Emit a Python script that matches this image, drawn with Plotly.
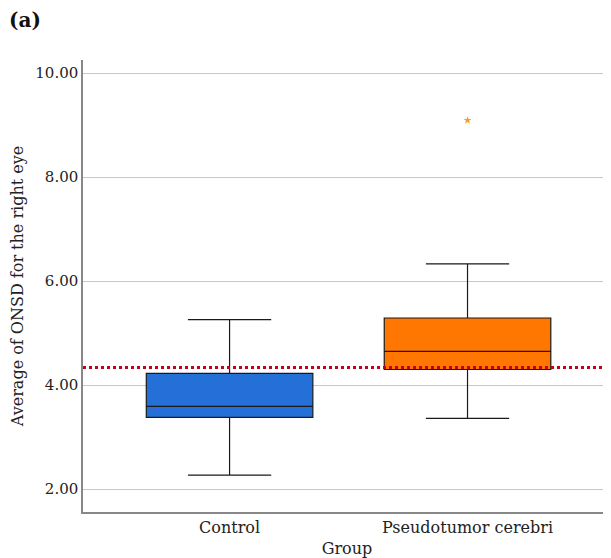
import plotly.graph_objects as go

groups = ["Control", "Pseudotumor cerebri"]
q1 = [3.38, 4.30]
median = [3.59, 4.65]
q3 = [4.225, 5.29]
lower_whisker = [2.27, 3.36]
upper_whisker = [5.26, 6.33]
outlier_group = ["Pseudotumor cerebri"]
outlier_value = [9.09]
cutoff = 4.34
y_ticks = [2, 4, 6, 8, 10]
y_tick_labels = ["2.00", "4.00", "6.00", "8.00", "10.00"]
colors = ["#2470D8", "#FF7700"]

font_family = "DejaVu Serif, Liberation Serif, serif"

fig = go.Figure()
for i, g in enumerate(groups):
    fig.add_trace(go.Box(
        x=[g], q1=[q1[i]], median=[median[i]], q3=[q3[i]],
        lowerfence=[lower_whisker[i]], upperfence=[upper_whisker[i]],
        fillcolor=colors[i], line=dict(color="#1a1a1a", width=1.2),
        width=0.7, whiskerwidth=0.5, boxpoints=False, showlegend=False,
        hoverinfo="skip",
    ))

fig.add_trace(go.Scatter(
    x=outlier_group, y=outlier_value, mode="markers",
    marker=dict(symbol="star", size=6, color="#F2A02A", line=dict(width=0)),
    showlegend=False, hoverinfo="skip",
))

fig.add_shape(type="line", xref="paper", x0=0, x1=1, yref="y", y0=cutoff, y1=cutoff,
              line=dict(color="#C8001E", width=3, dash="dot"), layer="above")

fig.update_layout(
    width=611, height=558,
    margin=dict(l=75, r=8, t=52, b=54, autoexpand=False),
    paper_bgcolor="white", plot_bgcolor="white",
    font=dict(family=font_family, size=15, color="#222"),
    annotations=[dict(text="<b>(a)</b>", xref="paper", yref="paper", x=-0.143, y=1.0,
                      xanchor="left", yanchor="bottom", yshift=26, showarrow=False,
                      font=dict(size=20, family=font_family, color="#111"))],
)
fig.update_xaxes(
    type="category", categoryorder="array", categoryarray=groups,
    range=[-0.616, 1.603], automargin=False,
    showline=True, linecolor="#888", linewidth=1.5, mirror=False,
    showgrid=False, ticks="", ticklen=0,
    title=dict(text="Group", standoff=7, font=dict(size=16)),
    tickfont=dict(size=16),
)
fig.update_yaxes(
    range=[1.56, 10.25], tickvals=y_ticks, ticktext=y_tick_labels, automargin=False,
    showline=True, linecolor="#888", linewidth=1.5,
    showgrid=True, gridcolor="#c8c8c8", gridwidth=1.2, zeroline=False,
    ticks="", title=dict(text="Average of ONSD for the right eye", standoff=12, font=dict(size=16)),
    tickfont=dict(size=15),
)

fig.write_html("out.html")
